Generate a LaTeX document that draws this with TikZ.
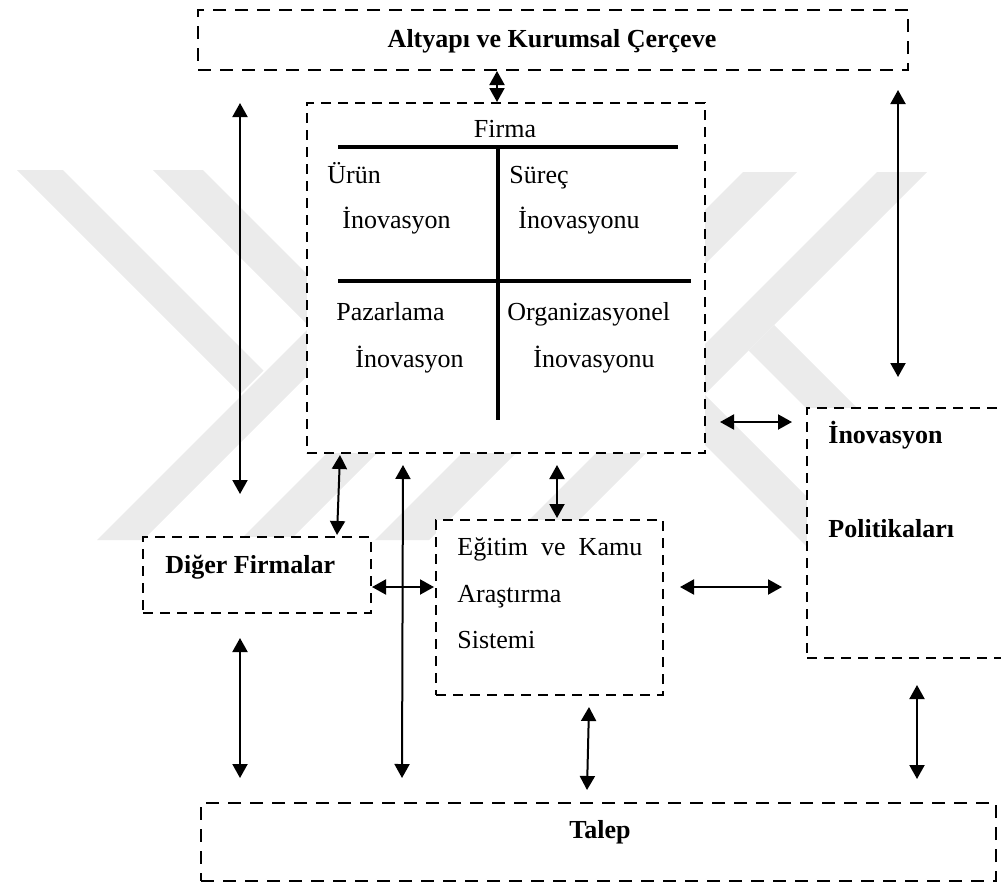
\documentclass[tikz,border=0pt]{standalone}
\usepackage{fontspec}
\setmainfont{Liberation Serif}
\usetikzlibrary{arrows.meta}
\tikzset{
  dbox/.style={draw, line width=1pt, dash pattern=on 5pt off 3.5pt, fill=white, inner sep=0pt},
  bigbox/.style={dbox, line width=1.2pt, dash pattern=on 6.5pt off 4.5pt},
  link/.style={line width=1pt, {Triangle[length=7pt,width=7.5pt]}-{Triangle[length=7pt,width=7.5pt]}},
  txt/.style={anchor=base west, inner sep=0pt, font=\fontsize{13pt}{15pt}\selectfont},
  txtb/.style={anchor=base west, inner sep=0pt, font=\fontsize{13pt}{15pt}\selectfont\bfseries},
  title/.style={anchor=base, inner sep=0pt, font=\fontsize{13pt}{15pt}\selectfont\bfseries},
  cross/.style={line width=1.7pt},
  wmark/.style={fill=black!8, draw=none}
}
\begin{document}
\begin{tikzpicture}[x=0.5pt, y=-0.5pt]
\useasboundingbox (0,0) rectangle (1001,884);
\clip (0,0) rectangle (1001,884);

% faint background emblem: two nested chevrons on the left, a K on the right
\fill[wmark] (17,170) -- (63,170) -- (263.5,370.5) -- (240.5,393.5) -- cycle;
\fill[wmark] (153,170) -- (203,170) -- (416.5,383.5) -- (391.5,408.5) -- cycle;
\fill[wmark] (97,540) -- (143,540) -- (513,170) -- (467,170) -- cycle;
\fill[wmark] (240,540) -- (290,540) -- (660,170) -- (610,170) -- cycle;
\fill[wmark] (375,540) -- (429,540) -- (797,172) -- (743,172) -- cycle;
\fill[wmark] (509,540) -- (559,540) -- (927,172) -- (877,172) -- cycle;
\fill[wmark] (748.5,350.5) -- (774,325) -- (869,420) -- (818,420) -- cycle;
\fill[wmark] (614.5,354.5) -- (639.5,329.5) -- (870,560) -- (820,560) -- cycle;

% boxes
\node[bigbox, minimum width=355pt, minimum height=30pt] (top) at (553,40) {};
\node[dbox, minimum width=199pt, minimum height=175pt] (firma) at (506,278) {};
\node[dbox, minimum width=104pt, minimum height=125pt] (pol) at (911,533) {};
\node[dbox, minimum width=114pt, minimum height=38pt] (diger) at (257,575) {};
\node[dbox, minimum width=113.5pt, minimum height=87.5pt] (egitim) at (549.5,607.5) {};
\node[bigbox, minimum width=397.5pt, minimum height=39pt] (talep) at (598.5,842) {};

% box texts
\node[title] (ttop) at (552,47) {Altyapı ve Kurumsal Çerçeve};
\node[title] (ttalep) at (600,838) {Talep};
\node[anchor=base, inner sep=0pt, font=\fontsize{13pt}{15pt}\selectfont] (tfirma) at (505,137) {Firma};
\node[txt] (t1a) at (327,183) {Ürün};
\node[txt] (t1b) at (342,228) {İnovasyon};
\node[txt] (t2a) at (509,183) {Süreç};
\node[txt] (t2b) at (518,228) {İnovasyonu};
\node[txt] (t3a) at (336,320) {Pazarlama};
\node[txt] (t3b) at (355,367) {İnovasyon};
\node[txt] (t4a) at (507,320) {Organizasyonel};
\node[txt] (t4b) at (533,367) {İnovasyonu};
\node[txtb] (tdiger) at (165,573) {Diğer Firmalar};
\node[txt] (te1) at (457,555) {Eğitim\hspace{0.5em}ve\hspace{0.5em}Kamu};
\node[txt] (te2) at (457,602) {Araştırma};
\node[txt] (te3) at (457,648) {Sistemi};
\node[txtb] (tp1) at (828,443) {İnovasyon};
\node[txtb] (tp2) at (828,537) {Politikaları};

% quadrant cross inside the firm box
\draw[cross] (338,147) -- (678,147);
\draw[cross] (338,281) -- (691,281);
\draw[cross] (498,147) -- (498,420);

% arrow end points
\coordinate (a1s) at (497,71);   \coordinate (a1e) at (497,102);
\coordinate (a2s) at (240,103);  \coordinate (a2e) at (240,494);
\coordinate (a3s) at (898,90);   \coordinate (a3e) at (898,377);
\coordinate (a4s) at (720,422);  \coordinate (a4e) at (792,422);
\coordinate (a5s) at (340,455);  \coordinate (a5e) at (337,535);
\coordinate (a6s) at (403,465);  \coordinate (a6e) at (402,778);
\coordinate (a7s) at (557,465);  \coordinate (a7e) at (557,518);
\coordinate (a8s) at (372,587);  \coordinate (a8e) at (434,587);
\coordinate (a9s) at (680,587);  \coordinate (a9e) at (782,587);
\coordinate (a10s) at (240,638); \coordinate (a10e) at (240,778);
\coordinate (a11s) at (589,707); \coordinate (a11e) at (587,790);
\coordinate (a12s) at (917,685); \coordinate (a12e) at (917,779);

% connectors
\draw[link] (a1s) -- (a1e);
\draw[link] (a2s) -- (a2e);
\draw[link] (a3s) -- (a3e);
\draw[link] (a4s) -- (a4e);
\draw[link] (a5s) -- (a5e);
\draw[link] (a6s) -- (a6e);
\draw[link] (a7s) -- (a7e);
\draw[link] (a8s) -- (a8e);
\draw[link] (a9s) -- (a9e);
\draw[link] (a10s) -- (a10e);
\draw[link] (a11s) -- (a11e);
\draw[link] (a12s) -- (a12e);
\end{tikzpicture}
\end{document}
